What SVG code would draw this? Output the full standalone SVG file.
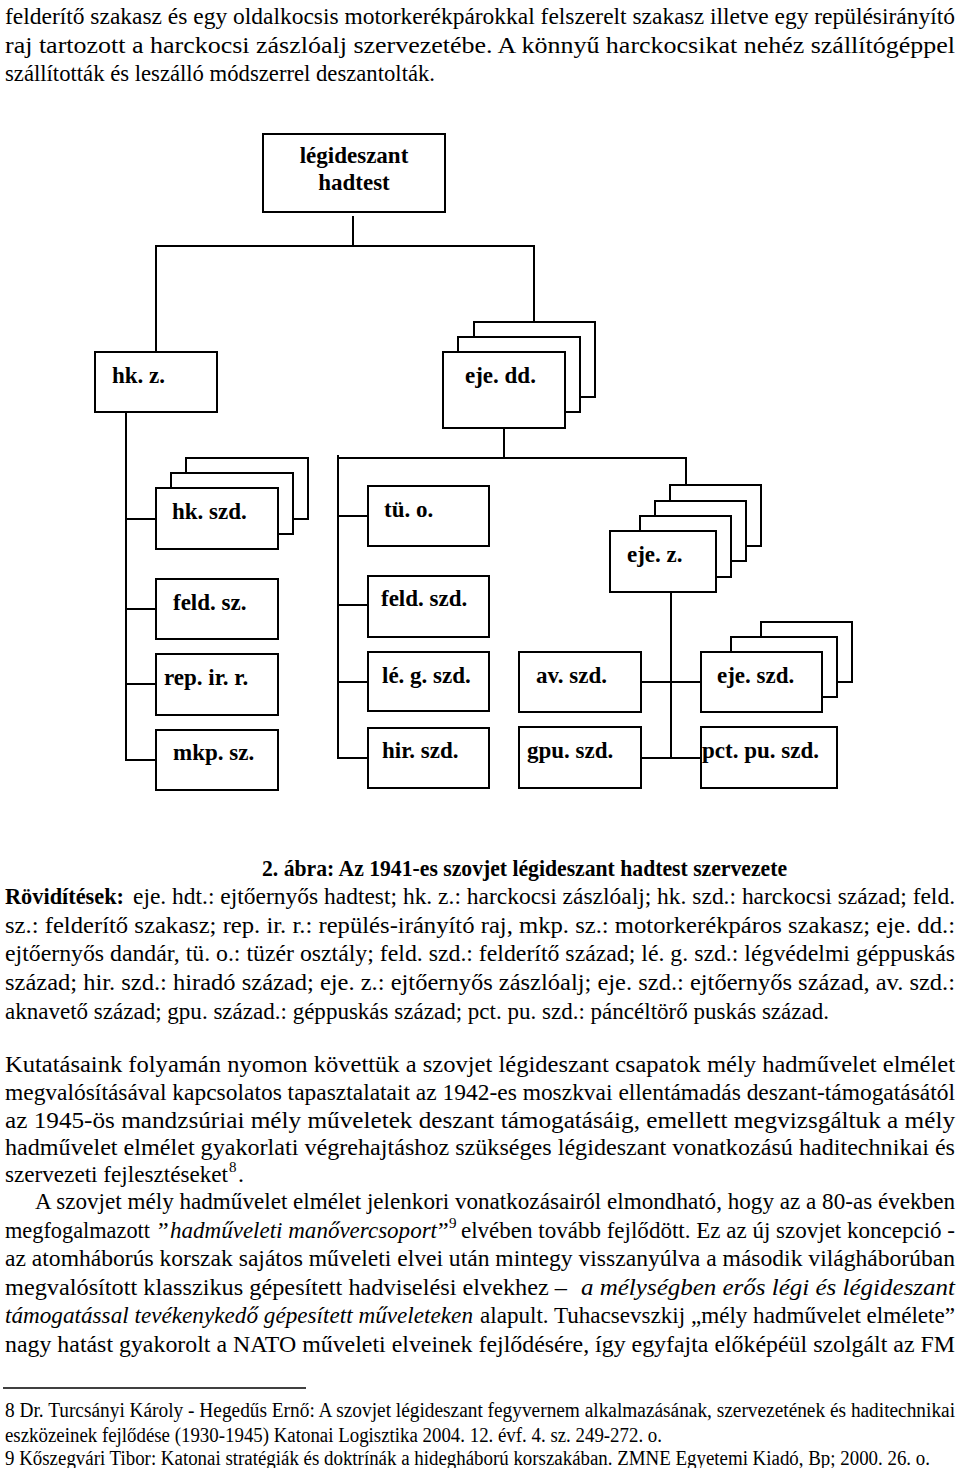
<svg xmlns="http://www.w3.org/2000/svg" width="960" height="1468" viewBox="0 0 960 1468">
<style>
.box{fill:#fff;stroke:#000;stroke-width:2}
.lbl{font-family:"Liberation Serif","Times New Roman",serif;font-weight:bold;font-size:23px;fill:#000}
.t{font-family:"Liberation Serif","Times New Roman",serif;font-size:24px;fill:#000}
.b{font-weight:bold}
.i{font-style:italic}
.fn{font-family:"Liberation Serif","Times New Roman",serif;font-size:20px;fill:#000}
.sup{font-size:15px}
.conn line{stroke:#000;stroke-width:2}
</style>
<rect width="960" height="1468" fill="#fff"/>

<!-- intro text -->
<text class="t" x="5" y="24" textLength="950" lengthAdjust="spacingAndGlyphs">felderítő szakasz és egy oldalkocsis motorkerékpárokkal felszerelt szakasz illetve egy repülésirányító</text>
<text class="t" x="5" y="53" textLength="950" lengthAdjust="spacingAndGlyphs">raj tartozott a harckocsi zászlóalj szervezetébe. A könnyű harckocsikat nehéz szállítógéppel</text>
<text class="t" x="5" y="81" textLength="430" lengthAdjust="spacingAndGlyphs">szállították és leszálló módszerrel deszantolták.</text>

<!-- connectors -->
<g class="conn" id="connectors">
<line x1="353" y1="216" x2="353" y2="246"/>
<line x1="155" y1="246" x2="535" y2="246"/>
<line x1="156" y1="246" x2="156" y2="352"/>
<line x1="534" y1="246" x2="534" y2="322"/>
<line x1="126" y1="412" x2="126" y2="761"/>
<line x1="126" y1="519" x2="156" y2="519"/>
<line x1="126" y1="609" x2="156" y2="609"/>
<line x1="126" y1="684" x2="156" y2="684"/>
<line x1="125" y1="760" x2="156" y2="760"/>
<line x1="504" y1="428" x2="504" y2="458"/>
<line x1="337" y1="458" x2="687" y2="458"/>
<line x1="338" y1="455" x2="338" y2="759"/>
<line x1="686" y1="458" x2="686" y2="485"/>
<line x1="338" y1="516" x2="368" y2="516"/>
<line x1="338" y1="605" x2="368" y2="605"/>
<line x1="338" y1="682" x2="368" y2="682"/>
<line x1="337" y1="758" x2="368" y2="758"/>
<line x1="671" y1="592" x2="671" y2="758"/>
<line x1="641" y1="682" x2="701" y2="682"/>
<line x1="641" y1="758" x2="701" y2="758"/>
</g>

<g id="n-hadtest">
<rect class="box" x="263" y="134" width="182" height="78"/>
<text class="lbl" x="354" y="163" text-anchor="middle">légideszant</text>
<text class="lbl" x="354" y="190" text-anchor="middle">hadtest</text>
</g>
<g id="n-hkz">
<rect class="box" x="95" y="352" width="122" height="60"/>
<text class="lbl" x="112" y="383">hk. z.</text>
</g>
<g id="n-ejedd">
<rect class="box" x="474" y="322" width="121" height="75"/>
<rect class="box" x="458" y="337" width="122" height="75"/>
<rect class="box" x="443" y="352" width="122" height="76"/>
<text class="lbl" x="465" y="383">eje. dd.</text>
</g>
<g id="n-hkszd">
<rect class="box" x="186" y="458" width="122" height="61"/>
<rect class="box" x="171" y="473" width="122" height="61"/>
<rect class="box" x="156" y="488" width="122" height="61"/>
<text class="lbl" x="172" y="519">hk. szd.</text>
</g>
<g id="n-feldsz">
<rect class="box" x="156" y="579" width="122" height="60"/>
<text class="lbl" x="173" y="610">feld. sz.</text>
</g>
<g id="n-repirr">
<rect class="box" x="156" y="654" width="122" height="61"/>
<text class="lbl" x="164" y="685">rep. ir. r.</text>
</g>
<g id="n-mkpsz">
<rect class="box" x="156" y="730" width="122" height="60"/>
<text class="lbl" x="173" y="760">mkp. sz.</text>
</g>
<g id="n-tuo">
<rect class="box" x="368" y="486" width="121" height="60"/>
<text class="lbl" x="384" y="517">tü. o.</text>
</g>
<g id="n-feldszd">
<rect class="box" x="368" y="576" width="121" height="61"/>
<text class="lbl" x="381" y="606">feld. szd.</text>
</g>
<g id="n-legszd">
<rect class="box" x="368" y="652" width="121" height="59"/>
<text class="lbl" x="382" y="683">lé. g. szd.</text>
</g>
<g id="n-hirszd">
<rect class="box" x="368" y="728" width="121" height="60"/>
<text class="lbl" x="382" y="758">hir. szd.</text>
</g>
<g id="n-ejez">
<rect class="box" x="670" y="485" width="91" height="61"/>
<rect class="box" x="655" y="501" width="91" height="60"/>
<rect class="box" x="640" y="516" width="91" height="61"/>
<rect class="box" x="610" y="531" width="106" height="61"/>
<text class="lbl" x="627" y="562">eje. z.</text>
</g>
<g id="n-avszd">
<rect class="box" x="519" y="652" width="122" height="60"/>
<text class="lbl" x="536" y="683">av. szd.</text>
</g>
<g id="n-gpuszd">
<rect class="box" x="519" y="727" width="122" height="61"/>
<text class="lbl" x="527" y="758">gpu. szd.</text>
</g>
<g id="n-ejeszd">
<rect class="box" x="761" y="622" width="91" height="60"/>
<rect class="box" x="731" y="637" width="106" height="60"/>
<rect class="box" x="701" y="652" width="121" height="60"/>
<text class="lbl" x="717" y="683">eje. szd.</text>
</g>
<g id="n-pctpuszd">
<rect class="box" x="701" y="727" width="136" height="61"/>
<text class="lbl" x="702" y="758">pct. pu. szd.</text>
</g>

<!-- caption and abbreviations -->
<text class="t b" x="262" y="876" textLength="525" lengthAdjust="spacingAndGlyphs">2. ábra: Az 1941-es szovjet légideszant hadtest szervezete</text>
<text class="t b" x="5" y="904" textLength="119" lengthAdjust="spacingAndGlyphs">Rövidítések:</text>
<text class="t" x="133" y="904" textLength="822" lengthAdjust="spacingAndGlyphs">eje. hdt.: ejtőernyős hadtest; hk. z.: harckocsi zászlóalj; hk. szd.: harckocsi század; feld.</text>
<text class="t" x="5" y="933" textLength="950" lengthAdjust="spacingAndGlyphs">sz.: felderítő szakasz; rep. ir. r.: repülés-irányító raj, mkp. sz.: motorkerékpáros szakasz; eje. dd.:</text>
<text class="t" x="5" y="961" textLength="950" lengthAdjust="spacingAndGlyphs">ejtőernyős dandár, tü. o.: tüzér osztály; feld. szd.: felderítő század; lé. g. szd.: légvédelmi géppuskás</text>
<text class="t" x="5" y="990" textLength="950" lengthAdjust="spacingAndGlyphs">század; hir. szd.: hiradó század; eje. z.: ejtőernyős zászlóalj; eje. szd.: ejtőernyős század, av. szd.:</text>
<text class="t" x="5" y="1019" textLength="824" lengthAdjust="spacingAndGlyphs">aknavető század; gpu. század.: géppuskás század; pct. pu. szd.: páncéltörő puskás század.</text>

<!-- paragraph 1 -->
<text class="t" x="5" y="1072" textLength="950" lengthAdjust="spacingAndGlyphs">Kutatásaink folyamán nyomon követtük a szovjet légideszant csapatok mély hadművelet elmélet</text>
<text class="t" x="5" y="1100" textLength="950" lengthAdjust="spacingAndGlyphs">megvalósításával kapcsolatos tapasztalatait az 1942-es moszkvai ellentámadás deszant-támogatásától</text>
<text class="t" x="5" y="1128" textLength="950" lengthAdjust="spacingAndGlyphs">az 1945-ös mandzsúriai mély műveletek deszant támogatásáig, emellett megvizsgáltuk a mély</text>
<text class="t" x="5" y="1155" textLength="950" lengthAdjust="spacingAndGlyphs">hadművelet elmélet gyakorlati végrehajtáshoz szükséges légideszant vonatkozású haditechnikai és</text>
<text class="t" y="1182"><tspan x="5" textLength="223" lengthAdjust="spacingAndGlyphs">szervezeti fejlesztéseket</tspan><tspan class="sup" x="229" dy="-10">8</tspan><tspan x="238" dy="10">.</tspan></text>

<!-- paragraph 2 -->
<text class="t" x="35" y="1209" textLength="920" lengthAdjust="spacingAndGlyphs">A szovjet mély hadművelet elmélet jelenkori vonatkozásairól elmondható, hogy az a 80-as években</text>
<text class="t" y="1238"><tspan x="5" textLength="145" lengthAdjust="spacingAndGlyphs">megfogalmazott</tspan><tspan x="158">”</tspan><tspan class="i" x="170" textLength="267" lengthAdjust="spacingAndGlyphs">hadműveleti manővercsoport</tspan><tspan x="438">”</tspan><tspan class="sup" x="449" dy="-10">9</tspan><tspan x="461" dy="10" textLength="494" lengthAdjust="spacingAndGlyphs">elvében tovább fejlődött. Ez az új szovjet koncepció -</tspan></text>
<text class="t" x="5" y="1266" textLength="950" lengthAdjust="spacingAndGlyphs">az atomháborús korszak sajátos műveleti elvei után mintegy visszanyúlva a második világháborúban</text>
<text class="t" x="5" y="1295" textLength="562" lengthAdjust="spacingAndGlyphs">megvalósított klasszikus gépesített hadviselési elvekhez –</text>
<text class="t i" x="581" y="1295" textLength="374" lengthAdjust="spacingAndGlyphs">a mélységben erős légi és légideszant</text>
<text class="t i" x="5" y="1323" textLength="468" lengthAdjust="spacingAndGlyphs">támogatással tevékenykedő gépesített műveleteken</text>
<text class="t" x="480" y="1323" textLength="475" lengthAdjust="spacingAndGlyphs">alapult. Tuhacsevszkij „mély hadművelet elmélete”</text>
<text class="t" x="5" y="1352" textLength="950" lengthAdjust="spacingAndGlyphs">nagy hatást gyakorolt a NATO műveleti elveinek fejlődésére, így egyfajta előképéül szolgált az FM</text>

<!-- footnotes -->
<line x1="3" y1="1388" x2="306" y2="1388" stroke="#000" stroke-width="1.5"/>
<text class="fn" x="5" y="1417" textLength="950" lengthAdjust="spacingAndGlyphs">8 Dr. Turcsányi Károly - Hegedűs Ernő: A szovjet légideszant fegyvernem alkalmazásának, szervezetének és haditechnikai</text>
<text class="fn" x="5" y="1442" textLength="657" lengthAdjust="spacingAndGlyphs">eszközeinek fejlődése (1930-1945) Katonai Logisztika 2004. 12. évf. 4. sz. 249-272. o.</text>
<text class="fn" x="5" y="1465" textLength="925" lengthAdjust="spacingAndGlyphs">9 Kőszegvári Tibor: Katonai stratégiák és doktrínák a hidegháború korszakában. ZMNE Egyetemi Kiadó, Bp; 2000. 26. o.</text>
</svg>
